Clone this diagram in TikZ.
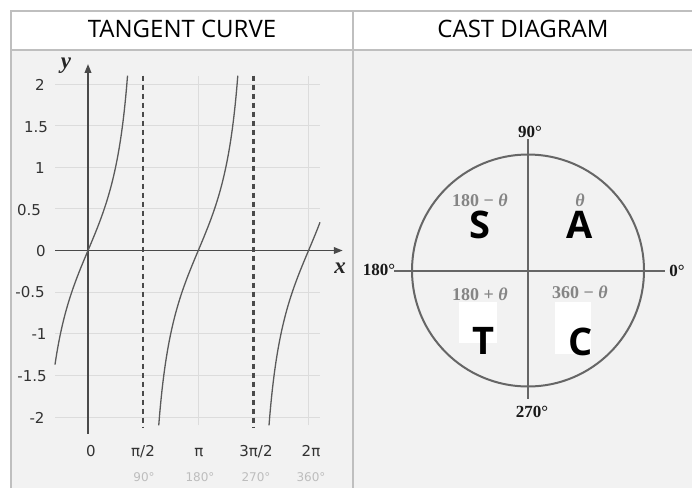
\documentclass[tikz,border=0pt]{standalone}
\usepackage{fontspec}
\setmainfont{Open Sans}
\newfontfamily\dejavu{DejaVu Sans}
\newfontfamily\lserif{Liberation Serif}
\usetikzlibrary{arrows.meta}
\definecolor{bodybg}{HTML}{F2F2F2}
\definecolor{bordc}{HTML}{BFBFBF}
\definecolor{axisc}{HTML}{4A4A4A}
\definecolor{curvec}{HTML}{5A5A5A}
\definecolor{gridc}{HTML}{DCDCDC}
\definecolor{tickc}{HTML}{333333}
\definecolor{degc}{HTML}{BDBDBD}
\definecolor{quadc}{HTML}{858585}
\definecolor{castc}{HTML}{666666}
\begin{document}
\begin{tikzpicture}[x=1pt,y=-1pt,
  hdr/.style={inner sep=0pt,font=\fontsize{24}{28}\selectfont,text=black},
  ytick/.style={inner sep=0pt,font=\dejavu\fontsize{15}{18}\selectfont,text=tickc},
  xtick/.style={inner sep=0pt,anchor=base,font=\dejavu\fontsize{15}{18}\selectfont,text=tickc},
  dtick/.style={inner sep=0pt,anchor=base,font=\dejavu\fontsize{12}{14}\selectfont,text=degc},
  axlab/.style={inner sep=0pt,font=\lserif\bfseries\itshape\fontsize{23}{26}\selectfont,text=black!85},
  deglab/.style={inner sep=0pt,anchor=base,font=\lserif\bfseries\fontsize{17}{20}\selectfont,text=black!90},
  quadlab/.style={inner sep=0pt,font=\lserif\bfseries\fontsize{18}{21}\selectfont,text=quadc},
  letter/.style={inner sep=0pt,font=\bfseries\fontsize{38}{44}\selectfont,text=black},
  gridline/.style={gridc,line width=0.8pt},
  castline/.style={castc,line width=2pt},
  asym/.style={axisc,line width=2.2pt,dash pattern=on 5pt off 4pt},
  axisline/.style={axisc,line width=1.8pt,-{Triangle[length=9pt,width=6.5pt]}},
]
\useasboundingbox (0,0) rectangle (692,488);
\fill[white] (0,0) rectangle (692,488);
\fill[bodybg] (11,51) rectangle (692,488);
% table borders
\draw[bordc,line width=2pt] (11,488) -- (11,11) -- (692,11);
\draw[bordc,line width=2pt] (11,50) -- (692,50);
\draw[bordc,line width=2pt] (353,11) -- (353,488);
\node[hdr] (h1) at (182,29) {TANGENT CURVE};
\node[hdr] (h2) at (523,29) {CAST DIAGRAM};

% ---------- tangent plot ----------
\begin{scope}[xshift=88pt,yshift=-250.5pt,x=35.1pt,y=83.3pt]
  \foreach \v in {-2,-1.5,-1,-0.5,0.5,1,1.5,2}
    \draw[gridline] (-0.94,\v) -- (6.61,\v);
  \foreach \u in {pi,2*pi}
    \draw[gridline] ({\u},-2.1) -- ({\u},2.1);
  % asymptotes
  \draw[asym] ({pi/2},2.1) -- ({pi/2},-2.12);
  \draw[asym] ({3*pi/2},2.1) -- ({3*pi/2},-2.12);
  % axes
  \coordinate (xs) at (-0.94,0);
  \coordinate (xe) at (7.26,0);
  \coordinate (ys) at (0,-2.2);
  \coordinate (ye) at (0,2.24);
  \draw[axisline] (xs) -- (xe);
  \draw[axisline] (ys) -- (ye);
  % curves
  \draw[curvec,line width=1.3pt] plot[domain=-0.94:1.1263,samples=80,smooth] (\x,{tan(\x r)});
  \draw[curvec,line width=1.3pt] plot[domain=2.0153:4.2679,samples=100,smooth] (\x,{tan(\x r)});
  \draw[curvec,line width=1.3pt] plot[domain=5.1569:6.61,samples=80,smooth] (\x,{tan(\x r)});
\end{scope}
\node[axlab] (ylab) at (66,66) {y};
\node[axlab] (xlab) at (340,268) {x};
% y ticks
\node[ytick] (t2) at (40,85) {2};
\node[ytick] (t15) at (36,127) {1.5};
\node[ytick] (t1) at (40,168) {1};
\node[ytick] (t05) at (29,210) {0.5};
\node[ytick] (t0) at (41,251) {0};
\node[ytick] (tm05) at (30,292) {-0.5};
\node[ytick] (tm1) at (39,334) {-1};
\node[ytick] (tm15) at (32,376) {-1.5};
\node[ytick] (tm2) at (37,418) {-2};
% x ticks
\node[xtick] (x0) at (91,456) {0};
\node[xtick] (x1) at (143,456) {π/2};
\node[xtick] (x2) at (199,456) {π};
\node[xtick] (x3) at (256,456) {3π/2};
\node[xtick] (x4) at (311,456) {2π};
\node[dtick] (d1) at (144,481) {90°};
\node[dtick] (d2) at (200,481) {180°};
\node[dtick] (d3) at (256,481) {270°};
\node[dtick] (d4) at (311,481) {360°};

% ---------- CAST diagram ----------
\coordinate (o) at (528,270.5);
\coordinate (cl) at (394,270.5);
\coordinate (cr) at (665,270.5);
\coordinate (ct) at (528,139);
\coordinate (cb) at (528,399);
\draw[castline] (o) circle[radius=116];
\draw[castline] (cl) -- (cr);
\draw[castline] (ct) -- (cb);
\node[deglab] (n90) at (530,137) {90°};
\node[deglab] (n180) at (379,275) {180°};
\node[deglab] (n0) at (677,276) {0°};
\node[deglab] (n270) at (532,417) {270°};
\node[quadlab] (q1) at (480,200) {180 − \textit{θ}};
\node[quadlab] (q2) at (580,200) {\textit{θ}};
\node[quadlab] (q3) at (480,294) {180 + \textit{θ}};
\node[quadlab] (q4) at (580,292) {360 − \textit{θ}};
\fill[white] (459,302) rectangle (497,343);
\fill[white] (555,302) rectangle (591,354);
\node[letter] (S) at (480,225) {S};
\node[letter] (A) at (580,225) {A};
\node[letter] (T) at (483,341) {T};
\node[letter] (C) at (581,342) {C};
\end{tikzpicture}
\end{document}
